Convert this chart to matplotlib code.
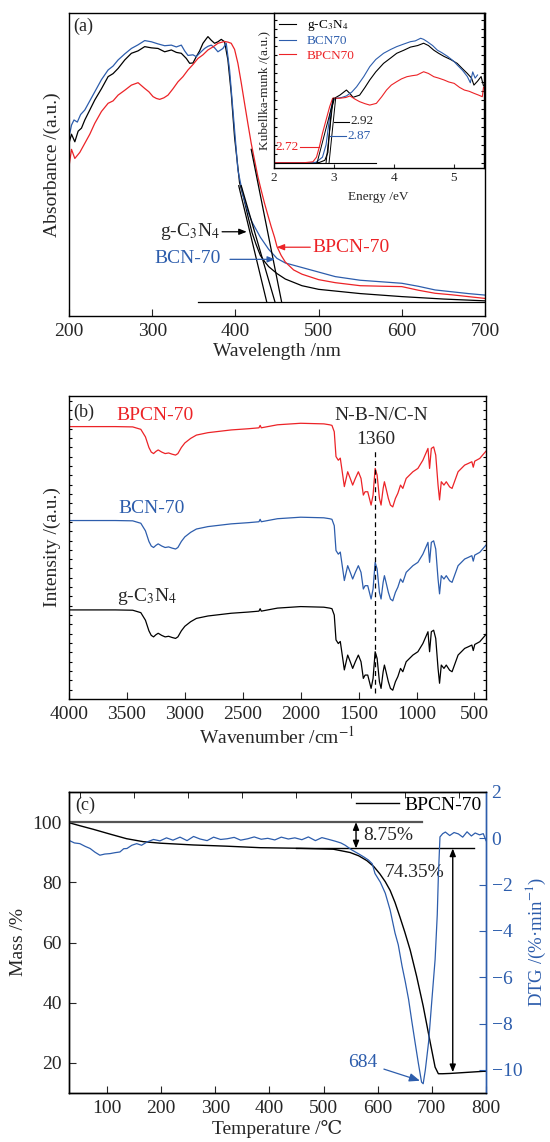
import numpy as np
import matplotlib.pyplot as plt

plt.rcParams['font.family'] = ['Liberation Serif', 'DejaVu Serif', 'DejaVu Sans']
plt.rcParams['mathtext.fontset'] = 'stix'
plt.rcParams['axes.linewidth'] = 1.0
plt.rcParams['xtick.direction'] = 'in'
plt.rcParams['ytick.direction'] = 'in'

RED = '#ec2327'
BLUE = '#2d5dac'
INK = '#262626'

# ---- (a) UV-vis absorbance ----
wl_g = [200, 203, 207, 211, 215, 219, 225, 231, 239, 247, 253, 259, 267, 275, 283, 291, 299, 307,
        315, 323, 329, 335, 341, 345, 349, 353, 357, 361, 365, 367, 371, 375, 379, 383, 387, 391,
        395, 399, 405, 410, 415, 420, 425, 430, 435, 440, 450, 460, 480, 500, 550, 600, 650, 700]
abs_g = [0.57, 0.60, 0.575, 0.61, 0.62, 0.647, 0.68, 0.713, 0.75, 0.79, 0.80, 0.817, 0.845, 0.867,
         0.875, 0.889, 0.885, 0.883, 0.872, 0.878, 0.87, 0.867, 0.85, 0.834, 0.835, 0.856, 0.875,
         0.9, 0.915, 0.922, 0.91, 0.9, 0.905, 0.913, 0.905, 0.845, 0.735, 0.59, 0.44, 0.39, 0.33,
         0.275, 0.235, 0.2, 0.18, 0.163, 0.14, 0.122, 0.1, 0.088, 0.074, 0.064, 0.056, 0.05]

wl_b = [200, 203, 206, 210, 214, 219, 225, 231, 239, 247, 253, 259, 267, 275, 283, 291, 299, 307,
        315, 323, 329, 335, 339, 343, 349, 353, 358, 363, 367, 371, 375, 379, 385, 389, 393, 397,
        403, 409, 415, 420, 430, 440, 450, 460, 480, 500, 520, 550, 580, 600, 620, 640, 660, 680, 700]
abs_b = [0.59, 0.63, 0.647, 0.64, 0.665, 0.68, 0.71, 0.74, 0.78, 0.812, 0.825, 0.845, 0.865, 0.883,
         0.895, 0.909, 0.905, 0.898, 0.892, 0.894, 0.888, 0.894, 0.875, 0.86, 0.862, 0.856, 0.87,
         0.883, 0.89, 0.894, 0.885, 0.872, 0.883, 0.9, 0.812, 0.68, 0.482, 0.40, 0.345, 0.31, 0.26,
         0.22, 0.19, 0.175, 0.16, 0.145, 0.13, 0.118, 0.112, 0.108, 0.098, 0.086, 0.08, 0.074, 0.069]

wl_r = [200, 203, 207, 213, 219, 225, 231, 239, 247, 253, 259, 267, 275, 283, 291, 296, 301, 305,
        309, 314, 319, 325, 331, 337, 343, 349, 355, 361, 367, 373, 379, 383, 387, 391, 395, 399,
        403, 407, 411, 415, 419, 423, 427, 431, 435, 439, 443, 447, 450, 455, 460, 470, 480, 500,
        520, 550, 580, 600, 620, 640, 660, 680, 700]
abs_r = [0.493, 0.55, 0.52, 0.54, 0.57, 0.60, 0.636, 0.675, 0.702, 0.71, 0.729, 0.745, 0.762, 0.77,
         0.751, 0.74, 0.724, 0.718, 0.715, 0.72, 0.729, 0.75, 0.773, 0.79, 0.812, 0.83, 0.85, 0.862,
         0.878, 0.888, 0.9, 0.903, 0.906, 0.904, 0.9, 0.88, 0.834, 0.77, 0.702, 0.635, 0.57, 0.515,
         0.46, 0.415, 0.372, 0.333, 0.295, 0.26, 0.229, 0.2, 0.178, 0.152, 0.138, 0.12, 0.11, 0.1,
         0.098, 0.097, 0.085, 0.075, 0.07, 0.064, 0.058]

# absorption-edge extrapolation lines: (start wl, start abs, onset wl)
uv_edges = [(404, 0.43, 437.6), (407, 0.43, 447.5), (419, 0.55, 455.5)]
uv_base = 0.047

# ---- (a) inset: Kubelka-Munk vs photon energy ----
ev_g = [2.0, 2.5, 2.76, 2.85, 2.90, 2.93, 2.956, 3.01, 3.1, 3.21, 3.27, 3.32, 3.43, 3.52, 3.60, 3.7,
        3.83, 3.95, 4.05, 4.17, 4.28, 4.4, 4.5, 4.58, 4.67, 4.75, 4.84, 4.95, 5.06, 5.15, 5.23, 5.3,
        5.34, 5.4, 5.46, 5.5]
km_g = [0.034, 0.034, 0.036, 0.05, 0.1, 0.25, 0.374, 0.45, 0.47, 0.503, 0.48, 0.456, 0.47, 0.52,
        0.568, 0.62, 0.675, 0.71, 0.74, 0.76, 0.78, 0.79, 0.805, 0.79, 0.76, 0.74, 0.72, 0.70, 0.675,
        0.64, 0.61, 0.58, 0.535, 0.56, 0.59, 0.53]

ev_b = [2.0, 2.5, 2.7, 2.81, 2.87, 2.93, 2.98, 3.05, 3.13, 3.21, 3.3, 3.38, 3.5, 3.6, 3.7, 3.83,
        3.95, 4.05, 4.17, 4.28, 4.36, 4.45, 4.5, 4.56, 4.65, 4.73, 4.8, 4.9, 5.0, 5.06, 5.15, 5.23,
        5.28, 5.32, 5.36, 5.4]
km_b = [0.034, 0.034, 0.036, 0.07, 0.15, 0.331, 0.439, 0.45, 0.455, 0.465, 0.49, 0.524, 0.59, 0.654,
        0.70, 0.74, 0.765, 0.783, 0.80, 0.815, 0.82, 0.837, 0.83, 0.815, 0.79, 0.76, 0.745, 0.72,
        0.69, 0.665, 0.63, 0.59, 0.55, 0.62, 0.58, 0.60]

ev_r = [2.0, 2.5, 2.65, 2.71, 2.76, 2.81, 2.87, 2.93, 2.98, 3.1, 3.2, 3.27, 3.35, 3.43, 3.52, 3.6,
        3.71, 3.8, 3.88, 3.96, 4.05, 4.13, 4.22, 4.3, 4.39, 4.5, 4.58, 4.67, 4.75, 4.84, 4.92, 5.01,
        5.1, 5.18, 5.26, 5.34, 5.42, 5.48, 5.5]
km_r = [0.034, 0.034, 0.04, 0.07, 0.14, 0.224, 0.31, 0.396, 0.45, 0.45, 0.455, 0.465, 0.445, 0.428,
        0.415, 0.406, 0.417, 0.46, 0.503, 0.535, 0.557, 0.575, 0.589, 0.595, 0.6, 0.621, 0.61, 0.589,
        0.58, 0.568, 0.555, 0.546, 0.52, 0.503, 0.495, 0.482, 0.47, 0.46, 0.52]

band_gaps = [2.92, 2.87, 2.72]
gap_tops = [3.03, 2.99, 3.0]
km_base = 0.034

# ---- (b) FTIR ----
ir_k = [4000, 3600, 3450, 3380, 3340, 3310, 3290, 3270, 3250, 3230, 3200, 3170, 3140, 3110, 3080,
        3060, 3030, 3000, 2950, 2900, 2800, 2600, 2450, 2360, 2350, 2340, 2200, 2000, 1800, 1750,
        1730, 1710, 1695, 1675, 1658, 1637, 1623, 1603, 1594, 1572, 1551, 1528, 1502, 1479, 1459,
        1444, 1421, 1392, 1375, 1357, 1340, 1320, 1306, 1288, 1277, 1263, 1243, 1225, 1205, 1182,
        1161, 1138, 1118, 1089, 1031, 988, 945, 901, 887, 872, 852, 834, 814, 801, 786, 763, 743,
        714, 693, 641, 584, 555, 522, 510, 497, 454, 400]
ir_profile = [0.294, 0.294, 0.293, 0.285, 0.26, 0.225, 0.21, 0.205, 0.212, 0.217, 0.21, 0.205, 0.207,
              0.203, 0.2, 0.205, 0.225, 0.24, 0.255, 0.266, 0.274, 0.283, 0.287, 0.29, 0.298, 0.29,
              0.3, 0.305, 0.303, 0.3, 0.298, 0.277, 0.195, 0.183, 0.19, 0.134, 0.096, 0.13, 0.145,
              0.123, 0.101, 0.123, 0.145, 0.123, 0.068, 0.079, 0.079, 0.035, 0.068, 0.156, 0.134,
              0.057, 0.035, 0.09, 0.112, 0.09, 0.057, 0.035, 0.029, 0.057, 0.074, 0.101, 0.09, 0.123,
              0.145, 0.156, 0.183, 0.222, 0.156, 0.222, 0.227, 0.2, 0.101, 0.052, 0.112, 0.101, 0.112,
              0.095, 0.09, 0.145, 0.167, 0.172, 0.178, 0.16, 0.18, 0.189, 0.213]
ir_names = ['g-C$_3$N$_4$', 'BCN-70', 'BPCN-70']
ir_offsets = [0.0, 0.295, 0.605]
ir_colors = ['black', BLUE, RED]

# ---- (c) TG / DTG ----
t_mass = [30, 50, 75, 106, 136, 167, 198, 260, 321, 383, 457, 518, 549, 565, 580, 593, 604, 614,
          623, 632, 641, 650, 660, 672, 684, 697, 706, 712, 720, 734, 760, 795, 800]
mass = [99.8, 98.8, 97.6, 96.0, 94.5, 93.5, 93.0, 92.4, 92.0, 91.5, 91.3, 91.0, 89.9, 88.8, 87.2,
        85.2, 82.8, 80.2, 77.3, 73.3, 68.5, 63.5, 57.5, 48.7, 38.9, 26.8, 18.6, 16.4, 16.4, 16.5,
        16.8, 17.2, 17.2]

t_dtg = [30, 40, 50, 60, 69, 78, 87, 96, 106, 115, 124, 131, 137, 146, 155, 164, 174, 186, 198, 210,
         222, 235, 248, 260, 272, 285, 297, 310, 322, 335, 347, 360, 372, 385, 397, 410, 422, 435,
         447, 460, 472, 485, 497, 510, 521, 532, 540, 552, 564, 574, 583, 590, 595, 605, 614, 623,
         632, 638, 645, 651, 657, 663, 669, 675, 681, 684, 688, 694, 700, 706, 710, 712, 715, 720,
         725, 733, 741, 749, 757, 765, 773, 780, 788, 795, 800]
dtg = [-0.09, -0.2, -0.23, -0.35, -0.44, -0.6, -0.73, -0.68, -0.66, -0.62, -0.59, -0.45, -0.44,
       -0.3, -0.23, -0.3, -0.16, -0.05, -0.11, 0.02, -0.08, 0.05, -0.1, 0.08, -0.03, -0.1, 0.05,
       -0.05, -0.02, 0.04, -0.08, -0.02, 0.06, -0.04, 0.0, -0.07, 0.05, -0.03, 0.02, -0.06, 0.06,
       -0.1, 0.03, -0.05, -0.12, -0.2, -0.3, -0.5, -0.66, -0.8, -0.94, -1.1, -1.52, -1.9, -2.37,
       -3.1, -4.09, -4.6, -5.52, -6.2, -6.95, -7.9, -8.81, -9.7, -10.53, -10.6, -10.0, -8.8, -7.0,
       -5.24, -3.3, -1.66, 0.06, 0.2, 0.27, 0.12, 0.25, 0.19, 0.05, 0.28, 0.1, 0.23, 0.15, 0.2, -0.1]

mass_start = 100.0
mass_plateau = 91.25
mass_final = 16.9
dtg_peak_t = 684


def box(left, top, right, bottom):
    W, H = 550, 1142
    return [left / W, 1 - bottom / H, (right - left) / W, (bottom - top) / H]


fig = plt.figure(figsize=(5.5, 11.42), dpi=100)

# ================= panel (a) =================
ax = fig.add_axes(box(69, 13, 485, 316))
ax.plot(wl_g, abs_g, color='black', lw=0.9)
ax.plot(wl_b, abs_b, color=BLUE, lw=0.9)
ax.plot(wl_r, abs_r, color=RED, lw=0.9)
for x0, y0, x1 in uv_edges:
    ax.plot([x0, x1], [y0, uv_base], color='black', lw=0.9)
ax.plot([355, 700], [uv_base, uv_base], color='black', lw=0.9)

ax.set_xlim(200, 700)
ax.set_ylim(0, 1)
ax.set_xticks(range(200, 701, 100))
ax.set_yticks([])
ax.tick_params(axis='x', length=5, labelsize=14, pad=5, colors=INK)
ax.set_xlabel('Wavelength /nm', fontsize=14, color=INK, labelpad=2)
ax.set_ylabel('Absorbance /(a.u.)', fontsize=14, color=INK, labelpad=6)
ax.text(0.01, 0.985, '(a)', transform=ax.transAxes, ha='left', va='top', fontsize=13, color=INK)

arw = dict(arrowstyle='-|>,head_length=0.45,head_width=0.18', lw=0.9, shrinkA=0, shrinkB=0)
ax.annotate('', xy=(413.6, 0.278), xytext=(384, 0.278), arrowprops=dict(arw, color='black'))
ax.text(382, 0.278, 'g-C$_3$N$_4$', ha='right', va='center', fontsize=14, color=INK)
ax.annotate('', xy=(447.6, 0.187), xytext=(393.5, 0.187), arrowprops=dict(arw, color=BLUE))
ax.text(382, 0.19, 'BCN-70', ha='right', va='center', fontsize=14, color=BLUE)
ax.annotate('', xy=(449.6, 0.227), xytext=(490, 0.227), arrowprops=dict(arw, color=RED))
ax.text(493, 0.227, 'BPCN-70', ha='left', va='center', fontsize=14, color=RED)

# inset
ins = fig.add_axes(box(274, 13, 483.5, 168))
ins.plot(ev_g, km_g, color='black', lw=0.8, label='g-C$_3$N$_4$')
ins.plot(ev_b, km_b, color=BLUE, lw=0.8, label='BCN70')
ins.plot(ev_r, km_r, color=RED, lw=0.8, label='BPCN70')
for eg, etop in zip(band_gaps, gap_tops):
    ins.plot([eg, etop], [km_base, 0.45], color='black', lw=0.7)
ins.plot([2.0, 3.7], [km_base, km_base], color='black', lw=0.8)

ins.plot([3.0, 3.25], [0.3, 0.3], color='black', lw=0.8)
ins.text(3.27, 0.3, '2.92', ha='left', va='center', fontsize=9.5, color=INK)
ins.plot([2.93, 3.2], [0.206, 0.206], color=BLUE, lw=0.8)
ins.text(3.22, 0.206, '2.87', ha='left', va='center', fontsize=9.5, color=BLUE)
ins.plot([2.43, 2.76], [0.138, 0.138], color=RED, lw=0.8)
ins.text(2.42, 0.138, '2.72', ha='right', va='center', fontsize=9.5, color=RED)

ins.set_xlim(2, 5.5)
ins.set_ylim(0, 1)
ins.set_xticks([2, 3, 4, 5])
ins.set_yticks(np.arange(0.03, 1.0, 0.058))
ins.tick_params(axis='x', length=3, labelsize=9.5, pad=3, colors=INK)
ins.tick_params(axis='y', length=2.5, labelleft=False, right=True)
ins.set_xlabel('Energy /eV', fontsize=9.5, color=INK, labelpad=5)
ins.set_ylabel('Kubellka-munk /(a.u.)', fontsize=9.5, color=INK, labelpad=3)
ins.legend(loc='upper left', fontsize=9.5, frameon=False, handlelength=1.3, handletextpad=0.8,
           labelspacing=0.15, borderaxespad=0.2, borderpad=0.2, labelcolor='linecolor')

# ================= panel (b) =================
bx = fig.add_axes(box(69, 396, 486, 699))
for name, off, col in zip(ir_names, ir_offsets, ir_colors):
    bx.plot(ir_k, np.array(ir_profile) + off, color=col, lw=0.9)
bx.plot([1360, 1360], [0.02, 0.828], color='black', lw=0.9, ls=(0, (4, 3)))
bx.text(1306, 0.937, 'N-B-N/C-N', ha='center', va='center', fontsize=14, color=INK)
bx.text(1349, 0.858, '1360', ha='center', va='center', fontsize=14, color=INK)
bx.text(3255, 0.937, 'BPCN-70', ha='center', va='center', fontsize=14, color=RED)
bx.text(3290, 0.63, 'BCN-70', ha='center', va='center', fontsize=14, color=BLUE)
bx.text(3324, 0.337, 'g-C$_3$N$_4$', ha='center', va='center', fontsize=14, color=INK)
bx.text(0.01, 0.975, '(b)', transform=bx.transAxes, ha='left', va='top', fontsize=13, color=INK)

bx.set_xlim(4000, 400)
bx.set_ylim(0, 1)
bx.set_xticks(range(4000, 499, -500))
bx.set_yticks(np.arange(0.0, 1.0, 1 / 32.5))
bx.tick_params(axis='x', length=5, labelsize=14, pad=5, colors=INK)
bx.tick_params(axis='y', length=2.5, labelleft=False, right=True)
bx.set_xlabel('Wavenumber /cm$^{-1}$', fontsize=14, color=INK, labelpad=2)
bx.set_ylabel('Intensity /(a.u.)', fontsize=14, color=INK, labelpad=6)

# ================= panel (c) =================
cx = fig.add_axes(box(69, 792, 486, 1093))
cx.plot(t_mass, mass, color='black', lw=1.0)
cx.plot([30, 681], [mass_start, mass_start], color='#555555', lw=1.6)
cx.plot([450, 777], [mass_plateau, mass_plateau], color='black', lw=1.0)
dbl = dict(arrowstyle='<|-|>,head_length=0.45,head_width=0.18', color='black', lw=1.0,
           shrinkA=0, shrinkB=0)
cx.annotate('', xy=(560, mass_plateau), xytext=(560, mass_start), arrowprops=dbl)
cx.annotate('', xy=(738.6, mass_final), xytext=(738.6, mass_plateau), arrowprops=dbl)
cx.text(573, 95.4, '%.2f%%' % (mass_start - mass_plateau), ha='left', va='center', fontsize=14,
        color=INK)
cx.text(669, 83.3, '%.2f%%' % (mass_plateau - mass_final + 0.0), ha='center', va='center',
        fontsize=14, color=INK)
cx.text(0.015, 0.983, '(c)', transform=cx.transAxes, ha='left', va='top', fontsize=13, color=INK)

cx.set_xlim(30, 800)
cx.set_ylim(10, 110)
cx.set_xticks(range(100, 801, 100))
cx.set_xticks(range(50, 801, 50), minor=True)
cx.set_yticks([20, 40, 60, 80, 100])
cx.tick_params(axis='x', which='major', length=5, labelsize=14, pad=5, colors=INK, top=False)
cx.tick_params(axis='x', which='minor', length=4, bottom=False, top=True)
cx.tick_params(axis='y', length=5, labelsize=14, pad=5, colors=INK)
cx.set_xlabel('Temperature /℃', fontsize=14, color=INK, labelpad=2)
cx.set_ylabel('Mass /%', fontsize=14, color=INK, labelpad=4)
cx.spines['right'].set_color(BLUE)
cx.legend([plt.Line2D([], [], color='black', lw=1.0)], ['BPCN-70'], loc='upper right',
          fontsize=14, frameon=False, handlelength=2.2, handletextpad=0.3, borderaxespad=0.1,
          borderpad=0.1)

cy = cx.twinx()
cy.plot(t_dtg, dtg, color=BLUE, lw=0.9)
cy.annotate(str(dtg_peak_t), xy=(678, -10.47), xytext=(599, -9.67), fontsize=14, color=BLUE,
            ha='right', va='center',
            arrowprops=dict(arrowstyle='-|>,head_length=0.45,head_width=0.18', color=BLUE, lw=0.9,
                            shrinkA=3, shrinkB=0))
cy.set_ylim(-11, 2)
cy.set_yticks(range(-10, 3, 2))
cy.tick_params(axis='y', length=5, labelsize=14, pad=4, colors=BLUE)
cy.spines['right'].set_color(BLUE)
cy.set_ylabel('DTG /(%·min$^{-1}$)', fontsize=13.5, color=BLUE, labelpad=1)

fig.savefig('out.png', dpi=100)
